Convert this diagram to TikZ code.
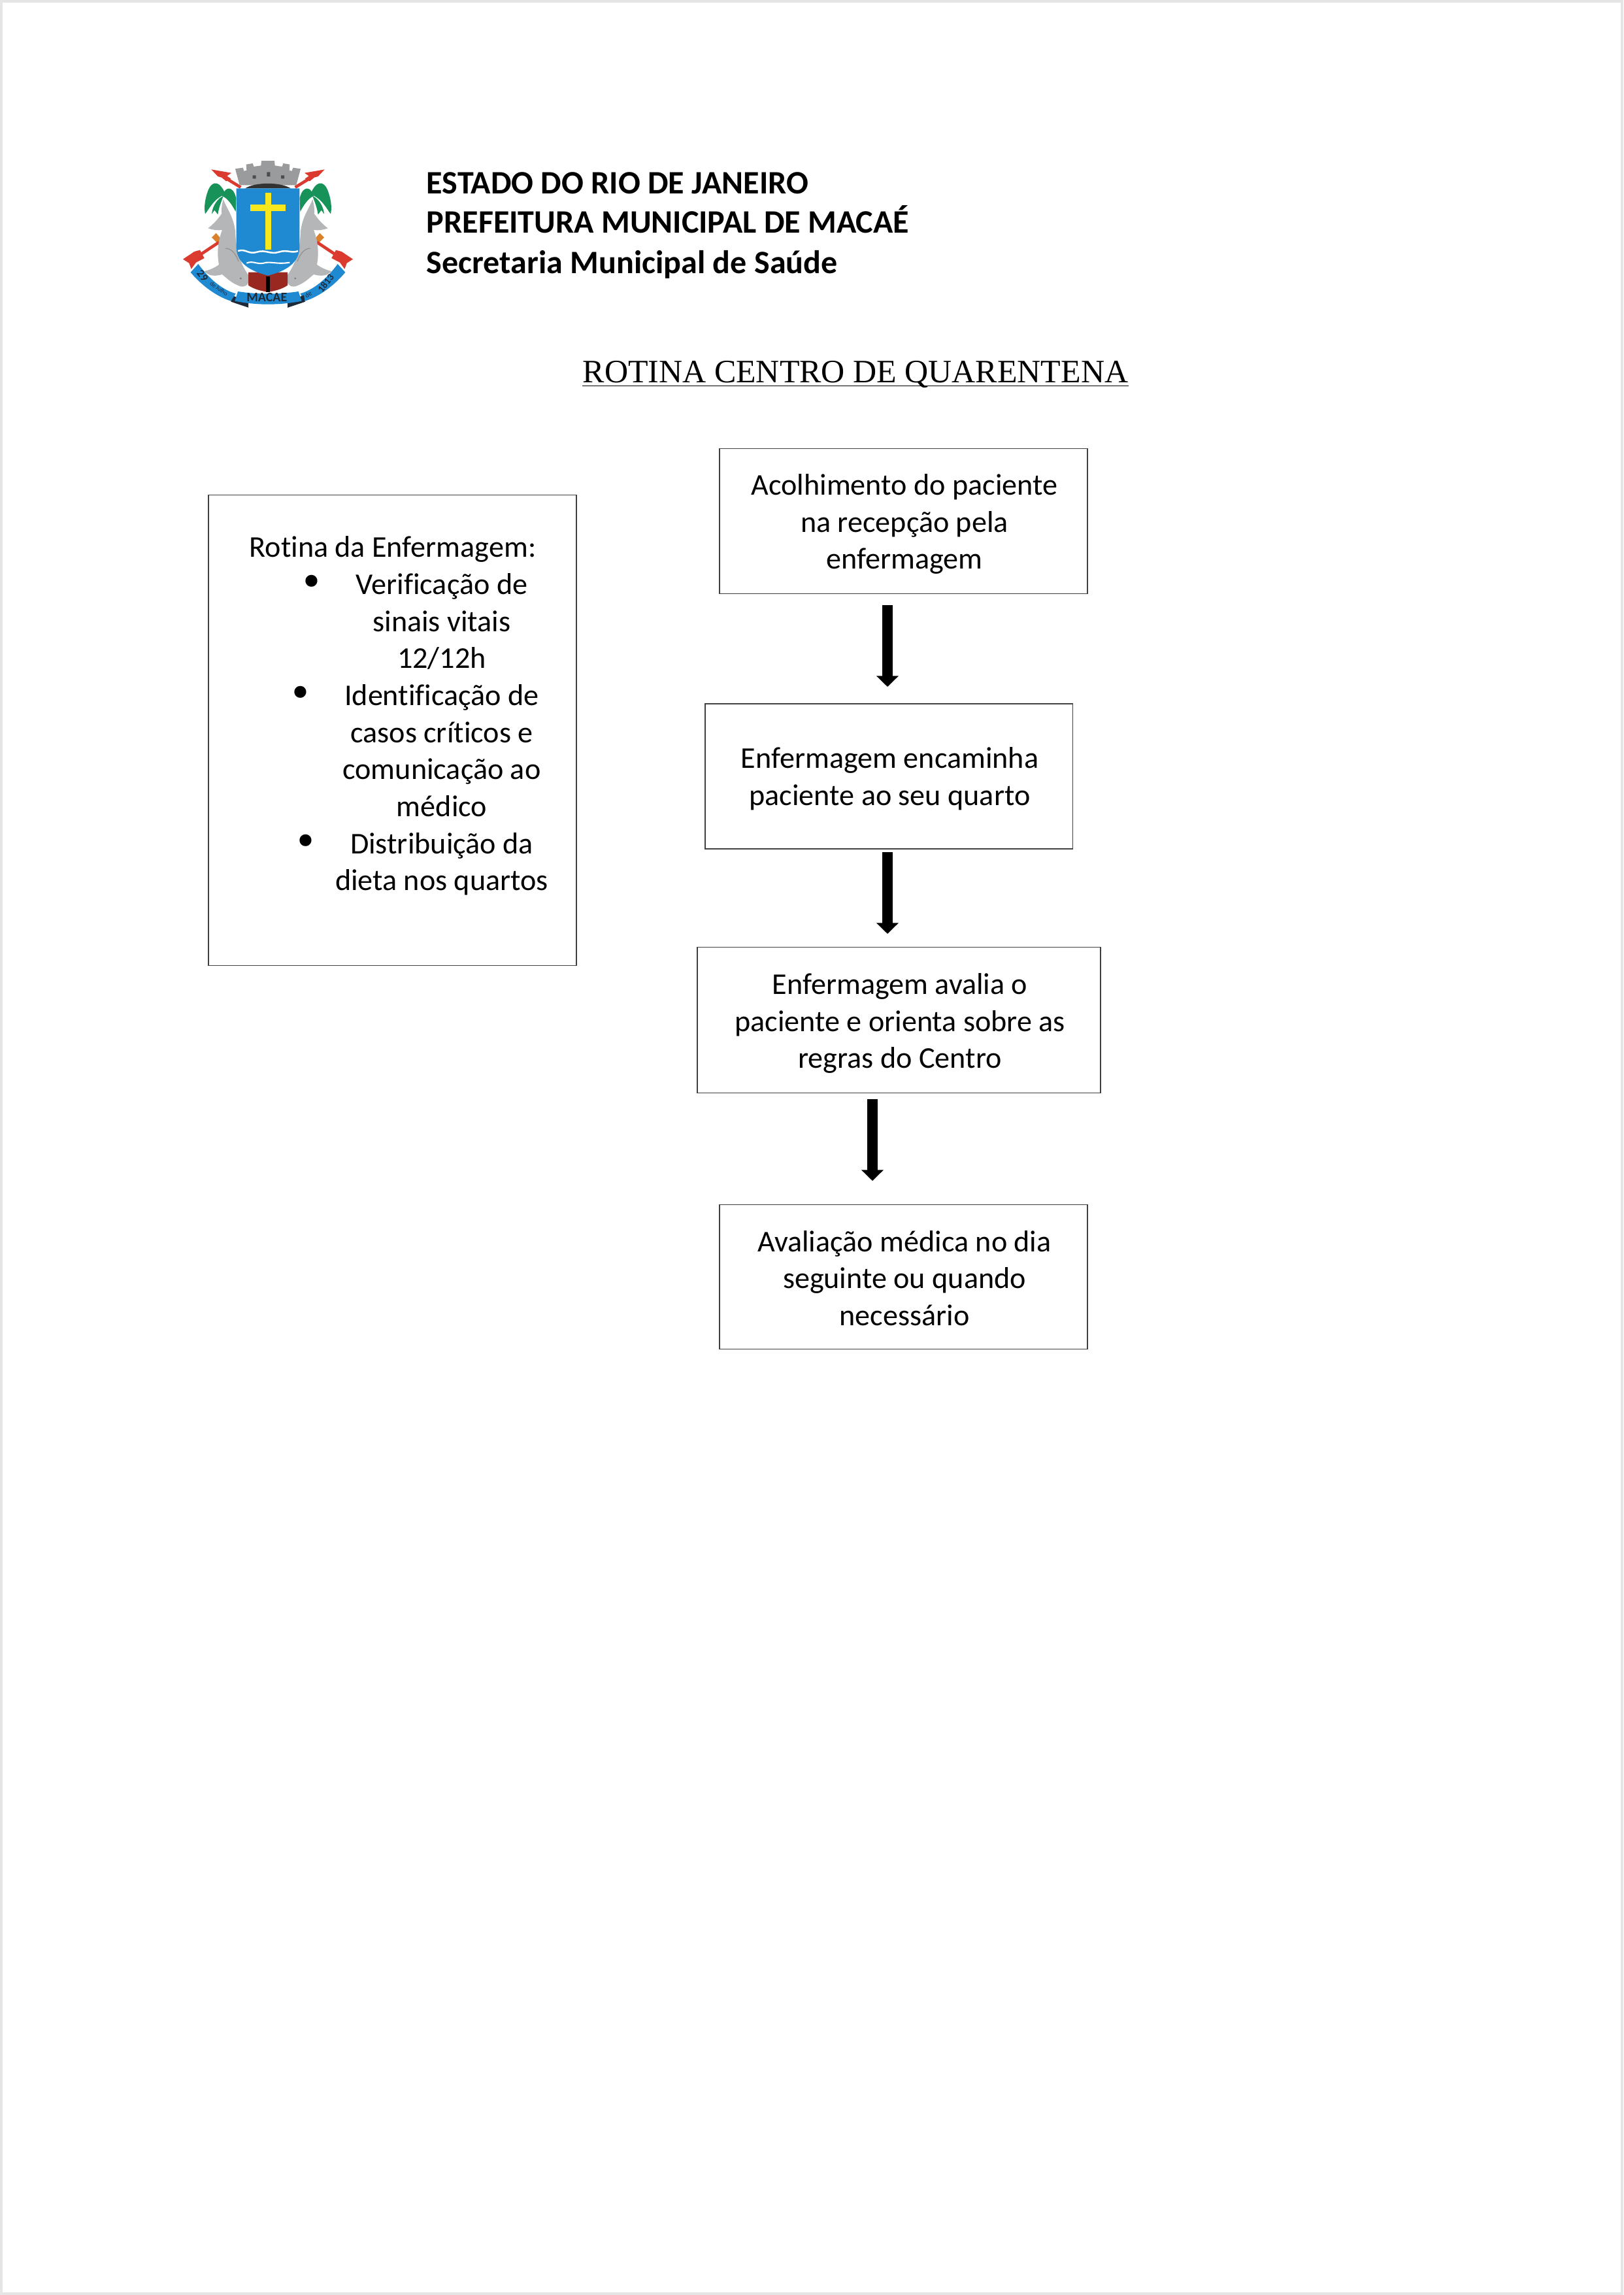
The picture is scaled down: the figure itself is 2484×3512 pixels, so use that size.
\documentclass[tikz,border=0pt]{standalone}
\usepackage{fontspec}
\setmainfont[Ligatures=NoCommon]{Carlito}
\newfontfamily\titlefont{Liberation Serif}
\newfontfamily\dotfont{DejaVu Sans}
\usetikzlibrary{arrows.meta}
\definecolor{crestblue}{HTML}{1F8AD2}
\definecolor{crestred}{HTML}{DB3A2E}
\definecolor{crestgreen}{HTML}{17935A}
\definecolor{crestgray}{HTML}{B4B6B8}
\definecolor{crestyellow}{HTML}{F7E81E}
\definecolor{crestorange}{HTML}{D9822B}
\definecolor{crestdark}{HTML}{1E2A38}
\tikzset{
  flowbox/.style={draw=black!75,line width=.36pt,minimum width=0pt,inner sep=0pt},
  flowtext/.style={align=center,font=\fontsize{11.07}{13.6}\selectfont,text=black,inner sep=0pt},
  headtext/.style={anchor=base west,font=\fontsize{12.02}{15}\selectfont\bfseries,inner sep=0pt},
  flowarrow/.style={line width=3.84pt,-{Triangle[width=7.9pt,length=4pt]},shorten >=0pt},
  bulletmark/.style={font=\fontsize{15}{15}\dotfont,inner sep=0pt},
  ribbontext/.style={font=\fontsize{4.8}{5}\selectfont\bfseries,text=crestdark,inner sep=0pt}
}
\newcommand{\crestside}{%
  % upper arrow
  \draw[crestred,line width=1.1pt] (385,200) -- (300,148);
  \fill[crestred] (250,118) -- (342,134) -- (322,148) -- (340,160) -- (318,172) -- (298,155) -- (280,150) -- cycle;
  % lower arrow
  \fill[crestorange] (252,430) -- (272,410) -- (298,440) -- (280,458) -- cycle;
  \draw[crestred,line width=1.1pt] (285,452) -- (195,512);
  \fill[crestred] (120,530) -- (172,495) -- (198,488) -- (218,525) -- (180,545) -- (158,575) -- (148,548) -- cycle;
  % palm
  \fill[crestgreen] (315,232) .. controls (290,170) and (255,165) .. (235,215) .. controls (222,250) and (215,290) .. (222,322) .. controls (240,300) and (262,250) .. (315,232) -- cycle;
  \fill[crestgreen] (300,240) .. controls (315,190) and (352,195) .. (364,250) -- (362,312) .. controls (345,280) and (325,250) .. (300,240) -- cycle;
  \fill[crestgreen] (252,322) .. controls (255,285) and (280,250) .. (305,240) .. controls (295,270) and (285,290) .. (280,325) -- (265,305) -- cycle;
  \fill[crestgreen] (305,360) rectangle (322,420);
  % fish
  \fill[crestgray] (305,255) .. controls (322,300) and (350,330) .. (360,400)
    .. controls (362,470) and (375,540) .. (422,605)
    .. controls (430,640) and (410,660) .. (385,655)
    .. controls (340,640) and (320,615) .. (300,600)
    .. controls (270,608) and (240,610) .. (218,585)
    .. controls (240,580) and (265,570) .. (285,555)
    .. controls (275,500) and (280,450) .. (300,395)
    .. controls (280,400) and (255,395) .. (235,388)
    .. controls (265,365) and (285,340) .. (298,320)
    .. controls (295,295) and (300,275) .. (305,255) -- cycle;
  \draw[black!45,line width=.25pt] (315,480) .. controls (340,480) and (360,500) .. (375,540);
  \fill[black!50] (385,618) circle (5);
  % ribbon
  \fill[crestdark] (345,695) -- (420,730) -- (420,752) -- (340,725) -- cycle;
  \fill[crestblue] (190,552) .. controls (240,620) and (300,670) .. (362,688) -- (340,722) .. controls (270,700) and (200,645) .. (155,590) -- cycle;
}
\begin{document}
\begin{tikzpicture}[x=.24pt,y=-.24pt]
\useasboundingbox (0,0) rectangle (2484,3512);
\fill[white] (0,0) rectangle (2484,3512);
\draw[black!10,line width=.8pt] (2,2) rectangle (2482,3510);

% crest
\begin{scope}[shift={(240,220)},x=.08pt,y=-.08pt]
  \crestside
  \begin{scope}[shift={(1020,0)},xscale=-1]
    \crestside
  \end{scope}
  % crown
  \fill[crestgray!85!black] (380,190) -- (360,115) -- (395,110) -- (400,125) -- (412,122) -- (410,95) -- (440,90) -- (445,105) -- (478,100) -- (480,78) -- (540,78) -- (542,100) -- (575,105) -- (580,90) -- (610,95) -- (608,122) -- (620,125) -- (625,110) -- (660,115) -- (640,190) -- cycle;
  \fill[black!70] (440,145) rectangle (455,160) (505,130) rectangle (520,150) (570,145) rectangle (585,160);
  \fill[black!80] (405,205) .. controls (450,175) and (570,175) .. (615,205) -- cycle;
  % red-black base
  \fill[crestred!70!black] (420,590) -- (600,590) -- (600,650) .. controls (570,670) and (540,675) .. (515,680) -- (505,680) .. controls (480,675) and (450,670) .. (420,650) -- cycle;
  \fill[black] (500,610) rectangle (520,680);
  % shield
  \fill[crestblue] (365,205) -- (655,205) -- (655,480) .. controls (650,560) and (570,590) .. (510,605) .. controls (450,590) and (370,560) .. (365,480) -- cycle;
  \draw[white,line width=.6pt] (372,492) .. controls (410,480) and (420,510) .. (460,497) .. controls (500,484) and (520,510) .. (560,497) .. controls (600,484) and (620,505) .. (648,492);
  \draw[white,line width=.5pt] (412,548) .. controls (440,535) and (460,555) .. (490,548) .. controls (520,538) and (550,555) .. (610,545);
  % cross
  \fill[crestyellow] (498,225) rectangle (525,485);
  \fill[crestyellow] (430,278) rectangle (590,310);
  % ribbon centre
  \fill[crestdark] (600,725) -- (675,695) -- (680,725) -- (600,752) -- cycle;
  \fill[crestblue] (372,678) .. controls (460,692) and (560,692) .. (650,678) -- (665,722) .. controls (560,742) and (460,742) .. (358,722) -- cycle;
  \node[ribbontext] (crestname) at (505,706) {MACAE};
  \node[ribbontext,rotate=-52,font=\fontsize{4}{4}\selectfont\bfseries] (crestday) at (210,606) {29};
  \node[ribbontext,rotate=-35,font=\fontsize{2.2}{3}\selectfont] (crestmonth) at (285,665) {de Julho};
  \node[ribbontext,rotate=35,font=\fontsize{2.4}{3}\selectfont] (crestof) at (695,692) {de};
  \node[ribbontext,rotate=52,font=\fontsize{3.6}{4}\selectfont\bfseries] (crestyear) at (775,640) {1813};
\end{scope}

% header
\node[headtext] (head1) at (652,296) {ESTADO DO RIO DE JANEIRO};
\node[headtext] (head2) at (652,356) {PREFEITURA MUNICIPAL DE MACAÉ};
\node[headtext] (head3) at (652,418) {Secretaria Municipal de Saúde};

% title
\node[anchor=base,inner sep=0pt,font=\fontsize{12}{15}\titlefont] (title) at (1309,585) {ROTINA CENTRO DE QUARENTENA};
\draw[black,line width=.3pt] ([yshift=-1.3pt]title.base west) -- ([yshift=-1.3pt]title.base east);

% flow boxes
\node[flowbox,minimum width=135.2pt,minimum height=53.3pt] (box1) at (1382.5,797.5) {};
\node[flowbox,minimum width=135pt,minimum height=53.3pt] (box2) at (1360,1188) {};
\node[flowbox,minimum width=148.1pt,minimum height=53.6pt] (box3) at (1375.5,1561) {};
\node[flowbox,minimum width=135.2pt,minimum height=53.1pt] (box4) at (1382.5,1954) {};
\node[flowbox,minimum width=135.2pt,minimum height=172.8pt] (routine) at (600.5,1117.5) {};

\node[flowtext] (text1) at (1384,802) {Acolhimento do paciente\\na recepção pela\\enfermagem};
\node[flowtext] (text2) at (1361.5,1192) {Enfermagem encaminha\\paciente ao seu quarto};
\node[flowtext] (text3) at (1377,1566) {Enfermagem avalia o\\paciente e orienta sobre as\\regras do Centro};
\node[flowtext] (text4) at (1384,1956) {Avaliação médica no dia\\seguinte ou quando\\necessário};

% routine text
\node[flowtext] (routinehead) at (601,840) {Rotina da Enfermagem:};
\node[flowtext] (routinelist) at (676,1124) {Verificação de\\sinais vitais\\12/12h\\Identificação de\\casos críticos e\\comunicação ao\\médico\\Distribuição da\\dieta nos quartos};
\node[bulletmark] (dot1) at (477,896) {•};
\node[bulletmark] (dot2) at (460,1066) {•};
\node[bulletmark] (dot3) at (468,1293) {•};

% arrows
\coordinate (a1s) at (1358,926);
\coordinate (a1e) at (1358,1051);
\coordinate (a2s) at (1358,1304);
\coordinate (a2e) at (1358,1429);
\coordinate (a3s) at (1335,1682);
\coordinate (a3e) at (1335,1807);
\draw[flowarrow] (a1s) -- (a1e);
\draw[flowarrow] (a2s) -- (a2e);
\draw[flowarrow] (a3s) -- (a3e);
\end{tikzpicture}
\end{document}
